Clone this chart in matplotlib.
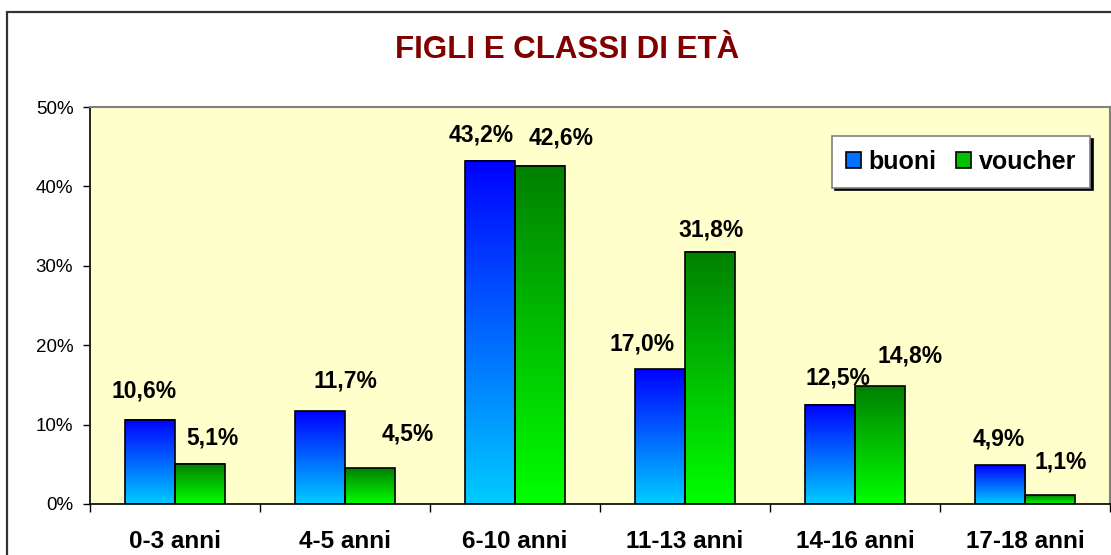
import numpy as np
import matplotlib
matplotlib.use("Agg")
import matplotlib.pyplot as plt
from matplotlib.colors import LinearSegmentedColormap
from matplotlib.patches import Rectangle, Patch

plt.rcParams['font.family'] = ['Liberation Sans', 'DejaVu Sans']

categories = ["0-3 anni", "4-5 anni", "6-10 anni", "11-13 anni", "14-16 anni", "17-18 anni"]
buoni = [10.6, 11.7, 43.2, 17.0, 12.5, 4.9]
voucher = [5.1, 4.5, 42.6, 31.8, 14.8, 1.1]
series_names = ["buoni", "voucher"]
y_ticks = [0, 10, 20, 30, 40, 50]

# label offsets (pixels) relative to the top-centre of each bar (layout only)
off_b = [(-6, 29), (25, 30), (-9, 26), (-18, 25), (8, 27), (-1, 26)]
off_v = [(12, 26), (38, 34), (21, 28), (1, 22), (30, 30), (11, 33)]

W, H, DPI = 1111, 555, 100
fig = plt.figure(figsize=(W / DPI, H / DPI), dpi=DPI)
fig.patch.set_facecolor('white')

# outer chart frame
fig.patches.append(Rectangle((7 / W, -0.2), 1.2, 1.2 - 12 / H, transform=fig.transFigure,
                             fill=False, edgecolor='#333333', linewidth=1.6))

ax = fig.add_axes([90 / W, 1 - 504 / H, 1020 / W, 397 / H])
ax.set_facecolor('#FFFFCC')

n = len(categories)
x = np.arange(n)
bw = 50 / 170

def grad_bars(xs, vals, c_top, c_bot):
    cmap = LinearSegmentedColormap.from_list('g', [c_bot, c_top])
    arr = np.linspace(0, 1, 256).reshape(-1, 1)
    bars = ax.bar(xs, vals, width=bw, facecolor='none', edgecolor='black', linewidth=1.2, zorder=3)
    for r in bars:
        x0, y0, w, h = r.get_x(), r.get_y(), r.get_width(), r.get_height()
        ax.imshow(arr, cmap=cmap, extent=[x0, x0 + w, y0, y0 + h], origin='lower',
                  aspect='auto', zorder=2, interpolation='bilinear')
    return bars

bb = grad_bars(x - bw / 2, buoni, '#0000FF', '#00CCFF')
bv = grad_bars(x + bw / 2, voucher, '#008000', '#00FF00')

ax.set_xlim(-0.5, n - 0.5)
ax.set_ylim(0, 50)

def fmt(v):
    return f"{v:.1f}".replace('.', ',') + '%'

for bars, vals, offs in ((bb, buoni, off_b), (bv, voucher, off_v)):
    for r, v, (dx, dy) in zip(bars, vals, offs):
        ax.annotate(fmt(v), (r.get_x() + r.get_width() / 2, v), xytext=(dx, dy),
                    textcoords='offset pixels', ha='center', va='center',
                    fontsize=16.5, fontweight='bold', color='black', zorder=5)

# axes styling
ax.set_yticks(y_ticks)
ax.set_yticklabels([f"{t}%" for t in y_ticks], fontsize=13.5)
ax.tick_params(axis='y', direction='out', length=5, width=1, pad=7)
ax.set_xticks(np.arange(-0.5, n, 1.0))
ax.set_xticklabels([])
ax.tick_params(axis='x', which='major', direction='out', length=6, width=1)
ax.set_xticks(x, minor=True)
ax.set_xticklabels(categories, minor=True, fontsize=17.5, fontweight='bold')
ax.tick_params(axis='x', which='minor', length=0, pad=19)
for s in ('top', 'right'):
    ax.spines[s].set_color('#808080')
    ax.spines[s].set_linewidth(1.5)
for s in ('left', 'bottom'):
    ax.spines[s].set_color('black')
    ax.spines[s].set_linewidth(1.2)

fig.text(567 / W, 1 - 50 / H, "FIGLI E CLASSI DI ETÀ", ha='center', va='center',
         fontsize=22.5, fontweight='bold', color='#800000')

handles = [Patch(facecolor='#0070FF', edgecolor='black', linewidth=1.2),
           Patch(facecolor='#00C000', edgecolor='black', linewidth=1.2)]
leg = ax.legend(handles, series_names, ncol=2, loc='upper right',
                bbox_to_anchor=((1090 - 90) / 1020, (504 - 136) / 397),
                borderaxespad=0, frameon=True, fancybox=False,
                shadow={'color': 'black', 'alpha': 1},
                prop={'size': 18, 'weight': 'bold'},
                handlelength=0.6, handleheight=0.6, handletextpad=0.3,
                columnspacing=0.8, borderpad=0.55)
leg.get_frame().set_edgecolor('#808080')
leg.get_frame().set_linewidth(1.2)
leg.get_frame().set_facecolor('white')
leg.set_zorder(6)

fig.savefig('out.png', dpi=DPI)
